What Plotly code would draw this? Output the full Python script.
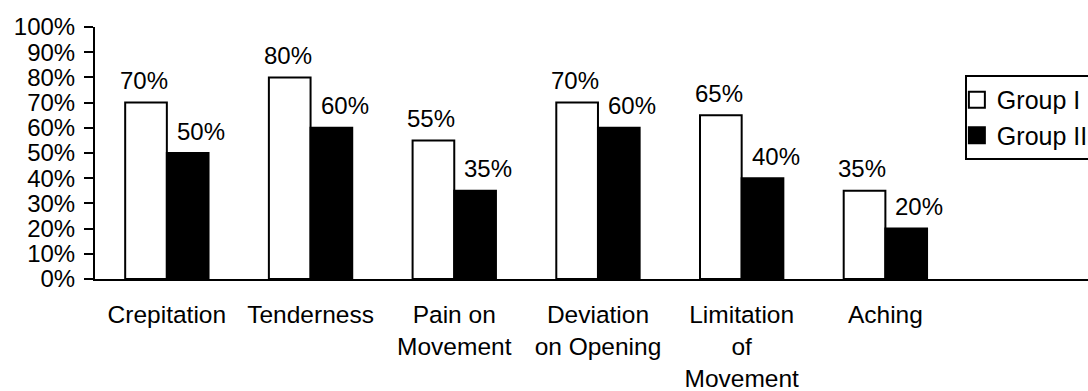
import plotly.graph_objects as go

categories = ["Crepitation", "Tenderness", "Pain on<br>Movement", "Deviation<br>on Opening",
              "Limitation<br>of<br>Movement", "Aching"]
group1 = [70, 80, 55, 70, 65, 35]
group2 = [50, 60, 35, 60, 40, 20]
series_names = ["Group I", "Group II"]
y_ticks = list(range(0, 101, 10))

FONT = "Arial, 'Liberation Sans', Helvetica, sans-serif"
FS = 24

fig = go.Figure()
fig.add_trace(go.Bar(x=categories, y=group1, name=series_names[0], showlegend=False,
                     marker=dict(color="white", line=dict(color="black", width=2))))
fig.add_trace(go.Bar(x=categories, y=group2, name=series_names[1], showlegend=False,
                     marker=dict(color="black", line=dict(color="black", width=2))))
# legend entries
fig.add_trace(go.Scatter(x=[None], y=[None], mode="markers", name=series_names[0],
                         marker=dict(symbol="square", size=18, color="white",
                                     line=dict(color="black", width=2))))
fig.add_trace(go.Scatter(x=[None], y=[None], mode="markers", name=series_names[1],
                         marker=dict(symbol="square", size=18, color="black",
                                     line=dict(color="black", width=2))))

annotations = []
for vals, dx in ((group1, -21 - 2), (group2, 21 + 13)):
    for c, v in zip(categories, vals):
        annotations.append(dict(x=c, y=v, xref="x", yref="y", text=f"{v}%", showarrow=False,
                                xshift=dx, yshift=22, yanchor="middle",
                                font=dict(family=FONT, size=FS, color="black")))

fig.update_layout(
    width=1088, height=391,
    margin=dict(l=95, r=0, t=27, b=112, autoexpand=False),
    paper_bgcolor="white", plot_bgcolor="white",
    font=dict(family=FONT, size=FS, color="black"),
    barmode="group", bargap=0.42, bargroupgap=0,
    annotations=annotations,
    legend=dict(x=0.876, y=0.81, xanchor="left", yanchor="top",
                bordercolor="black", borderwidth=2, bgcolor="white",
                font=dict(family=FONT, size=25, color="black"),
                itemwidth=30, tracegroupgap=0, indentation=-10),
)
fig.update_xaxes(type="category", range=[-0.5, 6.41], showline=True, linecolor="black",
                 linewidth=2, ticks="", showgrid=False, tickfont=dict(size=24.5),
                 ticklabelstandoff=13)
fig.update_yaxes(range=[0, 100], tickvals=y_ticks, ticktext=[f"{t}%" for t in y_ticks],
                 showline=True, linecolor="black", linewidth=2, ticks="outside",
                 ticklen=9, tickwidth=2, tickcolor="black", showgrid=False,
                 zeroline=False, tickfont=dict(size=FS), ticklabelstandoff=4)

fig.write_html("out.html")
